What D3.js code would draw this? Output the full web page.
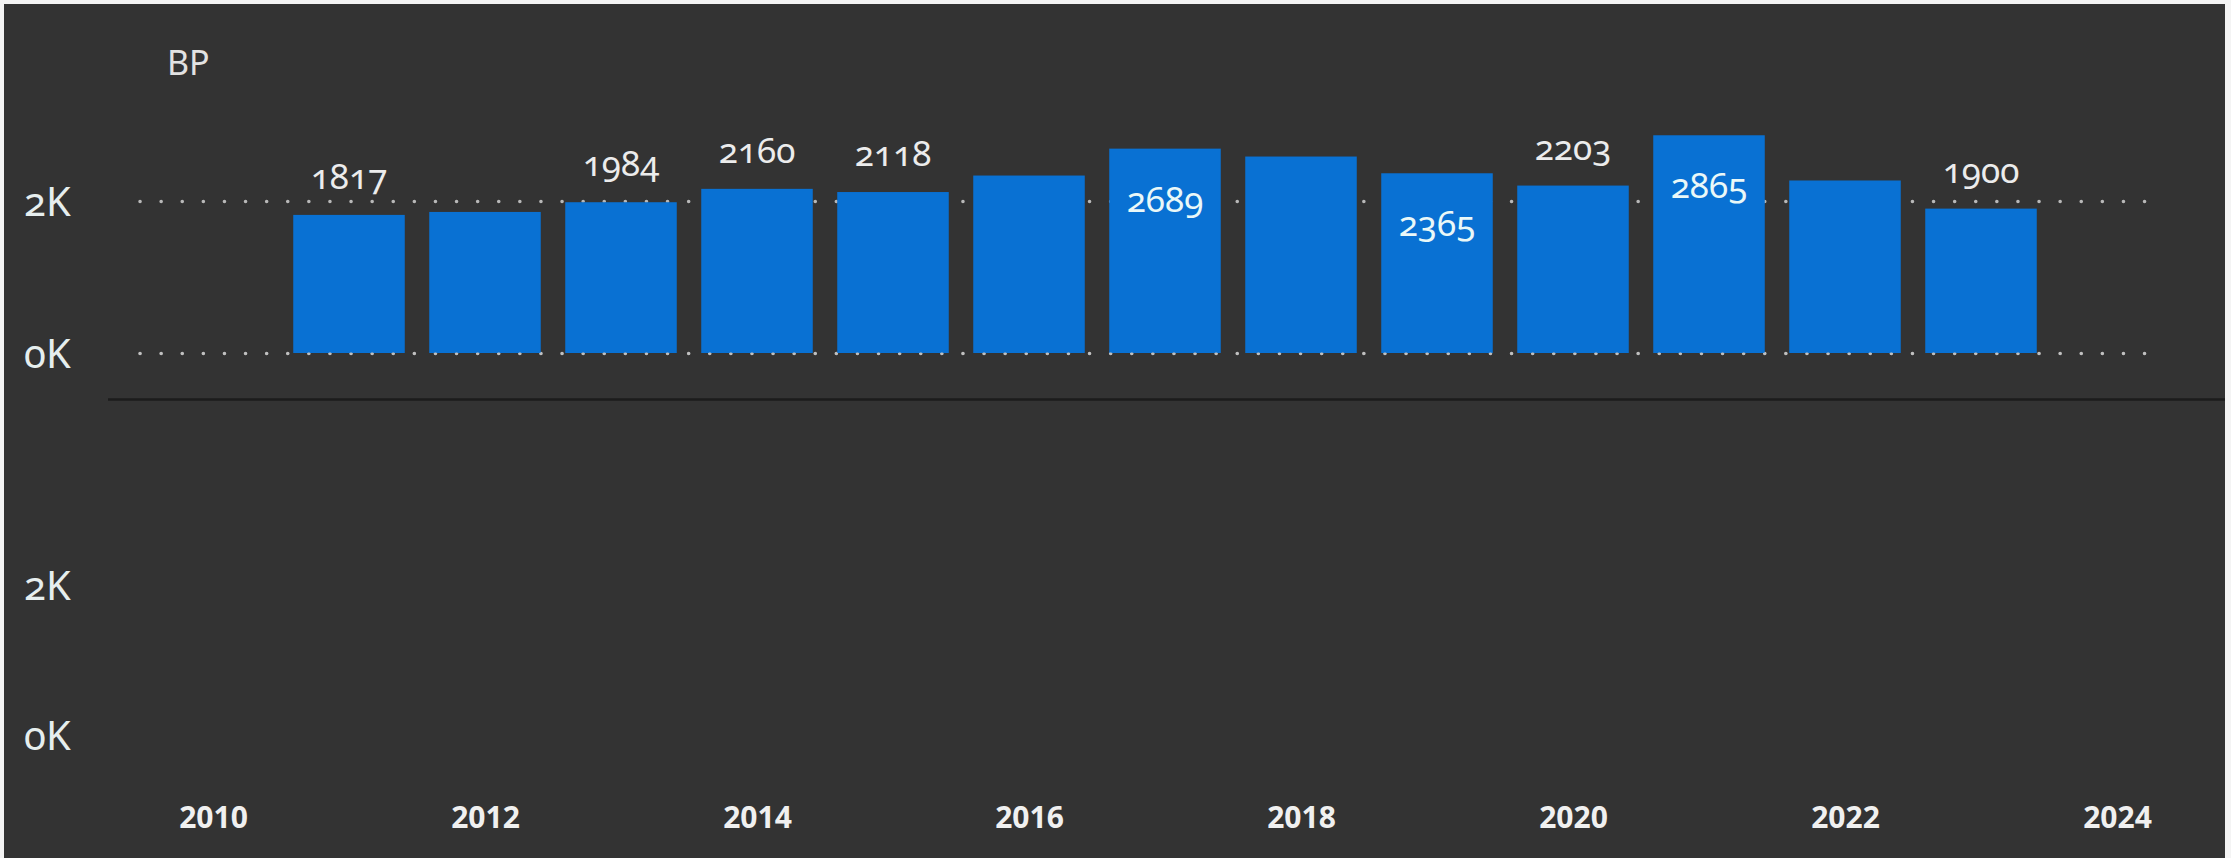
<!DOCTYPE html>
<html>
<head>
<meta charset="utf-8">
<script src="https://cdn.jsdelivr.net/npm/d3@7"></script>
<style>
  html, body { margin: 0; padding: 0; background: #ffffff; }
  svg { display: block; }
  .lbl { font-family: "Noto Sans", sans-serif; font-variant-numeric: oldstyle-nums; font-feature-settings: "onum" 1; }
</style>
</head>
<body>
<svg id="chart" width="2231" height="858"></svg>
<script>
// ---- data ----
const title = "BP";
const years = [2011, 2012, 2013, 2014, 2015, 2016, 2017, 2018, 2019, 2020, 2021, 2022, 2023];
const values = [1817, 1856, 1984, 2160, 2118, 2335, 2689, 2585, 2365, 2203, 2865, 2270, 1900];
const labelPlacement = ["above", null, "above", "above", "above", null, "inside", null, "inside", "above", "inside", null, "above"];
const xTickYears = [2010, 2012, 2014, 2016, 2018, 2020, 2022, 2024];
const yTickValues = [0, 2000];

// ---- layout ----
const W = 2231, H = 858;
const svg = d3.select("#chart");

// frame: light border on left/top/right, dark panel
svg.append("rect").attr("x", 0).attr("y", 0).attr("width", W).attr("height", H).attr("fill", "#f4f4f4");
svg.append("rect").attr("x", 4).attr("y", 4).attr("width", W - 10).attr("height", H - 4).attr("fill", "#333333");

const x = d3.scaleLinear().domain([2010, 2024]).range([213, 2117]);
const yTop = d3.scaleLinear().domain([0, 2000]).range([353, 201]);
const yBot = d3.scaleLinear().domain([0, 2000]).range([735, 585]);
const barHalf = (x(2011) - x(2010)) * 0.41;
const fmtK = d => (d / 1000) + "K";

// title
svg.append("text").attr("class", "lbl")
  .attr("x", 167).attr("y", 75)
  .attr("font-size", 34).attr("fill", "#e2e2e2")
  .text(title);

// gridlines (top panel) via axis
const grid = svg.append("g").attr("transform", "translate(140,0)")
  .call(d3.axisRight(yTop).tickValues(yTickValues).tickSize(2025).tickFormat(""));
grid.select(".domain").remove();
grid.selectAll(".tick line")
  .attr("stroke", "#d0d0d0").attr("stroke-opacity", 0.85)
  .attr("stroke-width", 3.5).attr("stroke-linecap", "round")
  .attr("stroke-dasharray", "0.1 21");

// bars
svg.append("g").selectAll("rect").data(years).join("rect")
  .attr("x", (d) => x(d) - barHalf)
  .attr("width", barHalf * 2)
  .attr("y", (d, i) => yTop(values[i]))
  .attr("height", (d, i) => yTop(0) - yTop(values[i]))
  .attr("fill", "#0971d3");

// zero gridline drawn over bar bottoms
svg.append("g").attr("transform", "translate(140,0)")
  .call(d3.axisRight(yTop).tickValues([0]).tickSize(2025).tickFormat(""))
  .call(g => g.select(".domain").remove())
  .selectAll(".tick line")
  .attr("stroke", "#c8c8c8").attr("stroke-opacity", 0.5)
  .attr("stroke-width", 3).attr("stroke-linecap", "round")
  .attr("stroke-dasharray", "0.1 21");

// data labels
svg.append("g").selectAll("text")
  .data(years.map((yr, i) => ({ yr, v: values[i], p: labelPlacement[i] })).filter(d => d.p))
  .join("text").attr("class", "lbl")
  .attr("x", d => x(d.yr))
  .attr("y", d => d.p === "above" ? yTop(d.v) - 26 : yTop(d.v) + 63)
  .attr("text-anchor", "middle")
  .attr("font-size", 35)
  .attr("fill", d => d.p === "above" ? "#ececec" : "#eaf8f8")
  .text(d => d.v);

// y axes (labels only)
function yLabels(scale) {
  const g = svg.append("g").attr("transform", "translate(24,0)")
    .call(d3.axisRight(scale).tickValues(yTickValues).tickSize(0).tickPadding(0).tickFormat(fmtK));
  g.select(".domain").remove();
  g.selectAll(".tick text").attr("class", "lbl")
    .attr("font-size", 40).attr("fill", "#e6eeee")
    .attr("dy", "0.36em");
}
yLabels(yTop);
yLabels(yBot);

// separator line between panels
svg.append("line").attr("x1", 108).attr("x2", W - 6).attr("y1", 399.5).attr("y2", 399.5)
  .attr("stroke", "#1c1c1c").attr("stroke-width", 2.5);

// x axis
const xa = svg.append("g").attr("transform", "translate(0,817)")
  .call(d3.axisBottom(x).tickValues(xTickYears).tickSize(0).tickPadding(0).tickFormat(d3.format("d")));
xa.select(".domain").remove();
xa.selectAll(".tick text")
  .attr("font-family", "'Open Sans', sans-serif")
  .attr("font-weight", 700)
  .attr("font-size", 30)
  .attr("fill", "#f0f0f0")
  .attr("dy", "0.36em");
</script>
</body>
</html>
